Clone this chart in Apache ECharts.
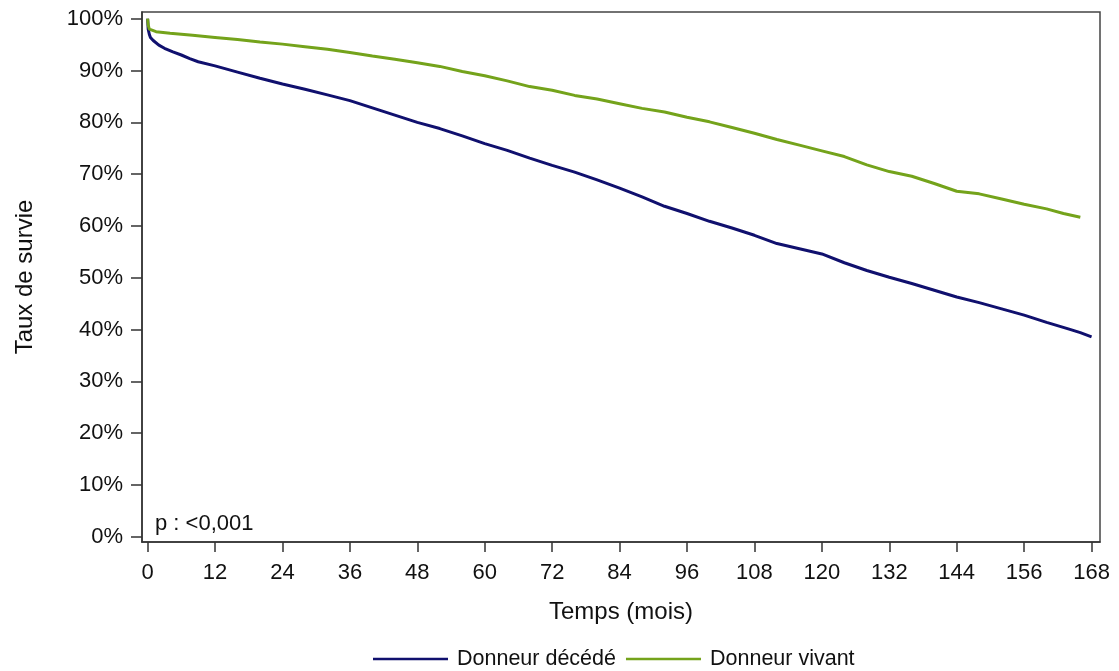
<!DOCTYPE html>
<html>
<head>
<meta charset="utf-8">
<script src="https://cdn.jsdelivr.net/npm/echarts@6/dist/echarts.min.js"></script>
<style>
  html, body { margin: 0; padding: 0; background: #fff; }
  #chart { width: 1119px; height: 671px; }
</style>
</head>
<body>
<div id="chart"></div>
<script>
// Kaplan-Meier survival estimates (months, % surviving)
const seriesNames = ['Donneur décédé', 'Donneur vivant'];

const monthsDecede = [0, 0.1, 0.3, 0.5, 1, 2, 3, 4.5, 6, 7.5, 9, 12, 16, 20, 24, 28, 32, 36, 40, 44, 48, 52, 56, 60, 64, 68, 72, 76, 80, 84, 88, 92, 96, 100, 104, 108, 112, 116, 120, 124, 128, 132, 136, 140, 144, 148, 152, 156, 160, 164, 166, 168];
const survieDecede = [100, 98, 97, 96.4, 95.8, 94.9, 94.3, 93.6, 93.0, 92.3, 91.7, 90.9, 89.7, 88.5, 87.4, 86.4, 85.3, 84.2, 82.8, 81.4, 80.0, 78.8, 77.4, 75.9, 74.6, 73.1, 71.7, 70.4, 68.9, 67.3, 65.6, 63.8, 62.4, 60.9, 59.6, 58.2, 56.6, 55.6, 54.6, 52.9, 51.4, 50.1, 48.9, 47.6, 46.3, 45.2, 44.0, 42.8, 41.4, 40.1, 39.4, 38.6];

const monthsVivant = [0, 0.1, 0.3, 0.6, 1.5, 4, 8, 12, 16, 20, 24, 28, 32, 36, 40, 44, 48, 52, 56, 60, 64, 68, 72, 76, 80, 84, 88, 92, 96, 100, 104, 108, 112, 116, 120, 124, 128, 132, 136, 140, 144, 148, 152, 156, 160, 163, 166];
const survieVivant = [100, 98.8, 98.0, 97.7, 97.5, 97.2, 96.8, 96.4, 96.0, 95.5, 95.1, 94.6, 94.1, 93.5, 92.8, 92.2, 91.5, 90.8, 89.8, 89.0, 88.0, 86.9, 86.2, 85.2, 84.5, 83.6, 82.7, 82.0, 81.0, 80.1, 79.0, 77.9, 76.7, 75.6, 74.5, 73.4, 71.8, 70.5, 69.6, 68.2, 66.7, 66.2, 65.2, 64.2, 63.3, 62.4, 61.7];

const xTicks = [0, 12, 24, 36, 48, 60, 72, 84, 96, 108, 120, 132, 144, 156, 168];
const yTicks = [0, 10, 20, 30, 40, 50, 60, 70, 80, 90, 100];

const colors = ['#10106e', '#74a31b'];
const font = "'Liberation Sans', Arial, sans-serif";

const pair = (xs, ys) => xs.map((x, i) => [x, ys[i]]);

const chart = echarts.init(document.getElementById('chart'), null, { renderer: 'canvas' });

chart.setOption({
  animation: false,
  backgroundColor: '#ffffff',
  textStyle: { fontFamily: font },
  grid: {
    left: 142, right: 19, top: 12, bottom: 129,
    show: true, borderColor: '#444', borderWidth: 1.5,
    containLabel: false
  },
  legend: {
    data: seriesNames,
    top: 643,
    left: 368,
    icon: 'rect',
    itemWidth: 75,
    itemHeight: 2.5,
    itemGap: 10,
    textStyle: { fontFamily: font, fontSize: 21.5, color: '#111', padding: [0, 0, 0, 4] }
  },
  xAxis: {
    type: 'value',
    min: -1,
    max: 169.5,
    name: 'Temps (mois)',
    nameLocation: 'middle',
    nameGap: 58,
    nameTextStyle: { fontFamily: font, fontSize: 24, color: '#111' },
    splitLine: { show: false },
    axisLine: { show: true, onZero: false, lineStyle: { color: '#333', width: 1.5 } },
    axisTick: { show: true, length: 10, customValues: xTicks, lineStyle: { color: '#333', width: 1.5 } },
    axisLabel: { customValues: xTicks, margin: 20, fontFamily: font, fontSize: 22, color: '#111' }
  },
  yAxis: {
    type: 'value',
    min: -1,
    max: 101.3,
    name: 'Taux de survie',
    nameLocation: 'middle',
    nameGap: 105,
    nameTextStyle: { fontFamily: font, fontSize: 24, color: '#111' },
    splitLine: { show: false },
    axisLine: { show: true, onZero: false, lineStyle: { color: '#333', width: 1.5 } },
    axisTick: { show: true, length: 11, customValues: yTicks, lineStyle: { color: '#333', width: 1.5 } },
    axisLabel: { customValues: yTicks, margin: 19, fontFamily: font, fontSize: 22, color: '#111', formatter: v => v + '%' }
  },
  graphic: [{
    type: 'text',
    left: 155,
    top: 513,
    style: { text: 'p : <0,001', fontFamily: font, fontSize: 22, fill: '#111' }
  }],
  series: [
    {
      name: seriesNames[0],
      type: 'line',
      data: pair(monthsDecede, survieDecede),
      showSymbol: false,
      lineStyle: { color: colors[0], width: 3 },
      itemStyle: { color: colors[0] }
    },
    {
      name: seriesNames[1],
      type: 'line',
      data: pair(monthsVivant, survieVivant),
      showSymbol: false,
      lineStyle: { color: colors[1], width: 3 },
      itemStyle: { color: colors[1] }
    }
  ]
});
</script>
</body>
</html>
